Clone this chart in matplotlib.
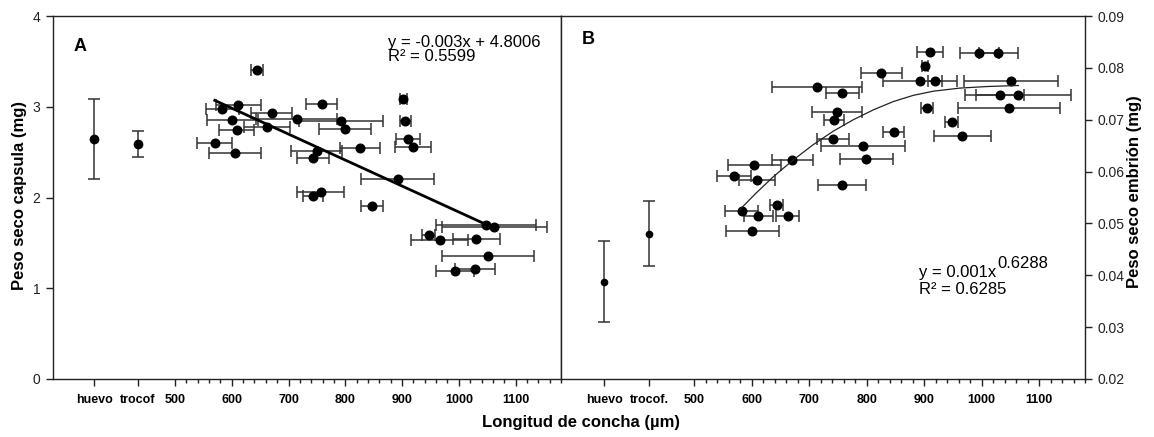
"""Shell length vs dry weight of capsule (A) and embryo (B)."""

import matplotlib

matplotlib.use("Agg")

import matplotlib.pyplot as plt
from matplotlib.ticker import FixedLocator

plt.rcParams["font.family"] = ["Liberation Sans", "DejaVu Sans"]

# ---- panel A: capsule dry weight (mg) ----
A_CAT_X = [358, 434]
A_CAT_Y = [2.64, 2.59]
A_CAT_ERR = [0.44, 0.14]

A_LEN = [643.8, 583.3, 611.5, 758.2, 902.0, 670.2, 600.9, 714.2, 792.8, 905.5,
         662.6, 608.6, 799.3, 910.2, 569.8, 919.0, 825.7, 749.4, 605.1, 742.4,
         892.0, 756.5, 742.4, 846.8, 1047.5, 1062.8, 946.6, 966.5, 1031.1, 1051.1,
         993.5, 1028.7]
A_LEN_ERR = [10.6, 28.7, 40, 27.8, 6, 35.8, 45, 72, 74, 9.4,
             40.5, 30.5, 46.4, 21.7, 30.5, 31.7, 34.6, 44.6, 45.8, 28.2,
             65, 41, 17.6, 18.8, 88.6, 93.3, 11.7, 49.9, 41, 81,
             33, 34.7]
A_WEIGHT = [3.41, 2.98, 3.02, 3.03, 3.08, 2.93, 2.85, 2.86, 2.84, 2.84,
            2.78, 2.74, 2.75, 2.65, 2.60, 2.56, 2.55, 2.51, 2.49, 2.43,
            2.20, 2.06, 2.02, 1.91, 1.70, 1.67, 1.59, 1.53, 1.54, 1.36,
            1.19, 1.21]
A_TREND_X = [570, 1049]
A_TREND_Y = [3.07, 1.70]

# ---- panel B: embryo dry weight (mg) ----
B_CAT_X = [343, 421]
B_CAT_Y = [0.0388, 0.0480]
B_CAT_ERR = [0.0079, 0.0063]

B_LEN = [910.3, 901.6, 825.6, 892.3, 919.0, 713.6, 757.7, 748.4, 905.1, 742.6,
         948.0, 847.0, 741.4, 793.1, 799.4, 670.6, 604.5, 569.1, 608.6, 757.1,
         643.4, 582.5, 611.5, 662.5, 601.0, 995.6, 1029.2, 1050.7, 1032.1, 1064.0,
         1048.3, 966.5]
B_LEN_ERR = [22.3, 6, 35.4, 64.5, 12, 77.5, 29, 44, 10.8, 17.7,
             11.6, 18.3, 28.2, 73, 46.4, 36.2, 46.7, 29.6, 31.3, 41.2,
             11.6, 28.4, 25.2, 20.3, 46.4, 34, 34, 81.5, 41.8, 92.3,
             88.8, 50]
B_WEIGHT = [0.0830, 0.0804, 0.0790, 0.0775, 0.0775, 0.0764, 0.0751, 0.0714, 0.0722, 0.0700,
            0.0695, 0.0676, 0.0663, 0.0650, 0.0624, 0.0622, 0.0612, 0.0592, 0.0583, 0.0574,
            0.0535, 0.0524, 0.0514, 0.0514, 0.0485, 0.0828, 0.0828, 0.0775, 0.0748, 0.0748,
            0.0722, 0.0669]
B_CURVE_X = [579.5, 608.0, 637.5, 670.6, 707.1, 742.0, 776.8, 811.6, 846.4, 881.2,
             916.0, 962.5, 1010.0, 1064.0]
B_CURVE_Y = [0.0527, 0.0559, 0.0590, 0.0621, 0.0652, 0.0678, 0.0700, 0.0719, 0.0735, 0.0747,
             0.0755, 0.0761, 0.0764, 0.0766]

NUM_TICKS = [500, 600, 700, 800, 900, 1000, 1100]
MINOR_TICKS = [520, 540, 560, 580, 620, 640, 660, 680, 720, 740, 760, 780, 820, 840,
               860, 880, 920, 940, 960, 980, 1020, 1040, 1060, 1080, 1120, 1140, 1160, 1180]

W, H = 1154, 437
SPINE = "#222222"
ERR = "#333333"


def px_rect(left, top, right, bottom):
    return [left / W, 1 - bottom / H, (right - left) / W, (bottom - top) / H]


def style_axis(ax, cat_x, cat_labels, xlim):
    ax.set_xlim(*xlim)
    ax.set_xticks(cat_x + NUM_TICKS)
    ax.set_xticklabels(cat_labels + [str(v) for v in NUM_TICKS], fontweight="bold", fontsize=9)
    ax.xaxis.set_minor_locator(FixedLocator(MINOR_TICKS))
    ax.tick_params(axis="x", which="major", length=5, width=1, color=SPINE, pad=6)
    ax.tick_params(axis="x", which="minor", length=3, width=1, color=SPINE)
    ax.tick_params(axis="y", length=5, width=1, color=SPINE, labelsize=10, pad=4,
                   labelcolor="#222222")
    for sp in ax.spines.values():
        sp.set_color(SPINE)
        sp.set_linewidth(1)


def draw_points(ax, x, y, xerr, ms):
    ax.errorbar(x, y, xerr=xerr, fmt="o", color="black", ms=ms, ecolor=ERR,
                elinewidth=1.1, capsize=4, capthick=1.1, zorder=3)


fig = plt.figure(figsize=(W / 100, H / 100), dpi=100)

# panel A
ax1 = fig.add_axes(px_rect(53, 16, 561, 379))
draw_points(ax1, A_LEN, A_WEIGHT, A_LEN_ERR, 6.2)
ax1.errorbar(A_CAT_X, A_CAT_Y, yerr=A_CAT_ERR, fmt="o", color="black", ms=6,
             ecolor=ERR, elinewidth=1.1, capsize=4, capthick=1.1)
ax1.plot(A_TREND_X, A_TREND_Y, color="black", linewidth=2, zorder=4)
ax1.set_ylim(0, 4)
ax1.set_yticks([0, 1, 2, 3, 4])
style_axis(ax1, A_CAT_X, ["huevo", "trocof"], (285, 1180))
ax1.text(0.04, 0.915, "A", transform=ax1.transAxes, fontsize=13, fontweight="bold",
         va="center", ha="left")
ax1.text(875, 3.71, "y = -0.003x + 4.8006", fontsize=12, va="center", ha="left")
ax1.text(875, 3.55, "R² = 0.5599", fontsize=12, va="center", ha="left")

# panel B
ax2 = fig.add_axes(px_rect(561, 16, 1085, 379))
draw_points(ax2, B_LEN, B_WEIGHT, B_LEN_ERR, 6.2)
ax2.errorbar(B_CAT_X, B_CAT_Y, yerr=B_CAT_ERR, fmt="o", color="black", ms=4.5,
             ecolor=ERR, elinewidth=1.1, capsize=4, capthick=1.1)
ax2.plot(B_CURVE_X, B_CURVE_Y, color="#222222", linewidth=0.9, zorder=4)
ax2.set_ylim(0.02, 0.09)
ax2.set_yticks([0.02, 0.03, 0.04, 0.05, 0.06, 0.07, 0.08, 0.09])
ax2.set_yticklabels(["0.02", "0.03", "0.04", "0.05", "0.06", "0.07", "0.08", "0.09"])
ax2.yaxis.tick_right()
style_axis(ax2, B_CAT_X, ["huevo", "trocof."], (268, 1180))
ax2.text(0.04, 0.935, "B", transform=ax2.transAxes, fontsize=13, fontweight="bold",
         va="center", ha="left")
eq = ax2.text(891, 0.0406, "y = 0.001x", fontsize=12, va="center", ha="left")
ax2.annotate("0.6288", xy=(1, 0.5), xycoords=eq, xytext=(1, 6),
             textcoords="offset points", fontsize=12, va="center", ha="left")
ax2.text(891, 0.0373, "R² = 0.6285", fontsize=12, va="center", ha="left")

fig.text(20 / W, 1 - 196 / H, "Peso seco capsula (mg)", rotation=90, fontsize=12,
         fontweight="bold", ha="center", va="center")
fig.text(1135 / W, 1 - 192 / H, "Peso seco embrión (mg)", rotation=90, fontsize=12,
         fontweight="bold", ha="center", va="center")
fig.text(581 / W, 1 - 423 / H, "Longitud de concha (µm)", fontsize=12,
         fontweight="bold", ha="center", va="center")

fig.savefig("out.png", dpi=100)
plt.close(fig)
